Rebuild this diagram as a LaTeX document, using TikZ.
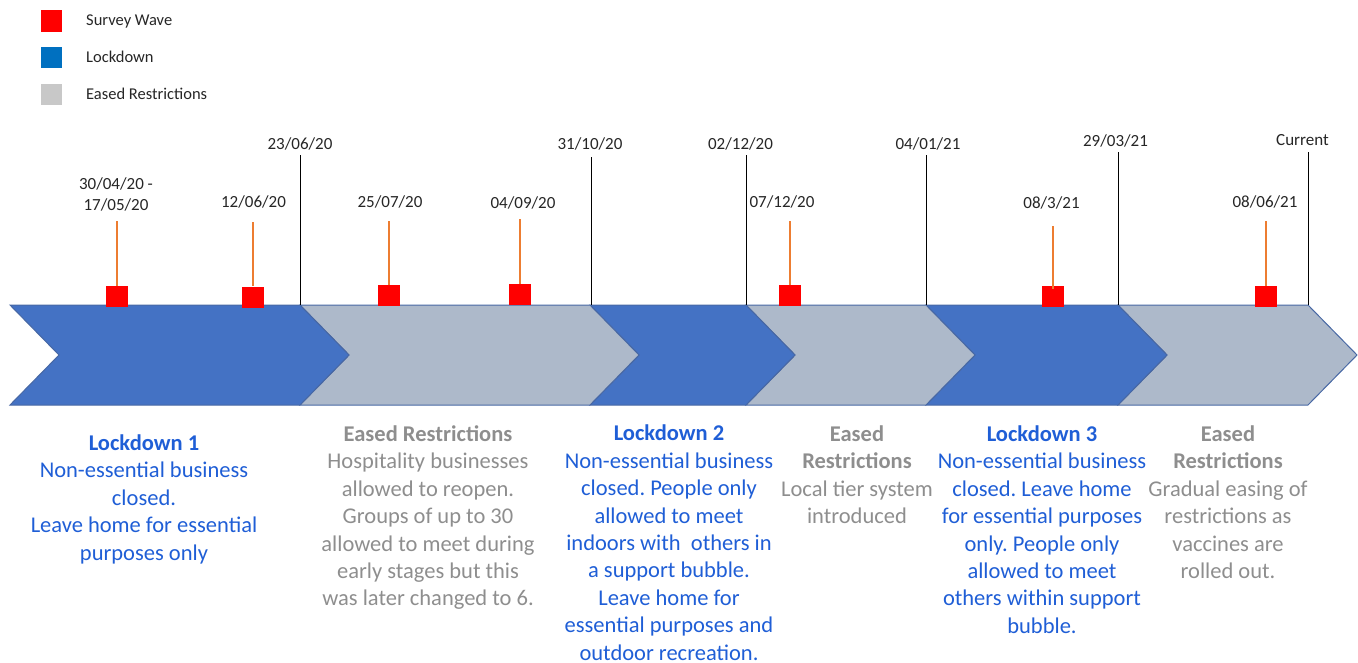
\documentclass[tikz,border=0pt]{standalone}
\usepackage{fontspec}
\setmainfont{Carlito}
\frenchspacing
\definecolor{ldblue}{RGB}{68,114,196}
\definecolor{easegrey}{RGB}{173,185,202}
\definecolor{chevline}{RGB}{72,104,164}
\definecolor{legblue}{RGB}{0,112,192}
\definecolor{leggrey}{RGB}{200,200,200}
\definecolor{wavered}{RGB}{255,0,0}
\definecolor{waveorange}{RGB}{237,125,49}
\definecolor{txtblue}{RGB}{31,94,214}
\definecolor{txtgrey}{RGB}{142,142,142}
\newcommand\chevshape[3]{\path[#3] (#1,305) -- (#2,305) -- ({#2+49},355) -- (#2,405) -- (#1,405) -- ({#1+49},355) -- cycle;}
\begin{document}
\begin{tikzpicture}[x=1pt,y=-1pt,
  legsq/.style={minimum width=21.5pt,minimum height=21.5pt,inner sep=0pt,draw=none},
  legtxt/.style={anchor=base west,inner sep=0pt,font=\fontsize{16.5}{19}\selectfont,text=black!85},
  datetxt/.style={anchor=base,inner sep=0pt,font=\fontsize{17}{21}\selectfont,text=black!85},
  wavebox/.style={fill=wavered,minimum width=22pt,minimum height=21pt,inner sep=0pt},
  waveline/.style={draw=waveorange,line width=1.8pt},
  markline/.style={draw=black,line width=1pt},
  ldchev/.style={fill=ldblue,draw=chevline,line width=1pt,line join=miter},
  easechev/.style={fill=easegrey,draw=chevline,line width=1pt,line join=miter},
  blocktxt/.style={anchor=north,inner sep=0pt,align=center,font=\fontsize{22.5}{27.4}\selectfont},
  ldtxt/.style={blocktxt,text=txtblue},
  eztxt/.style={blocktxt,text=txtgrey}]
\useasboundingbox (0,0) rectangle (1358,662);
% legend
\node[legsq,fill=wavered] (lg1) at (51.5,21) {};
\node[legsq,fill=legblue] (lg2) at (51.5,57.5) {};
\node[legsq,fill=leggrey] (lg3) at (51.5,94.5) {};
\node[legtxt] (lt1) at (86,25.5) {Survey Wave};
\node[legtxt] (lt2) at (86,62.5) {Lockdown};
\node[legtxt] (lt3) at (86,99.5) {Eased Restrictions};
% chevrons (drawn right to left so each tip lies over the next)
\chevshape{1118}{1308}{easechev}
\chevshape{926}{1118}{ldchev}
\chevshape{746}{926}{easechev}
\chevshape{590}{746}{ldchev}
\chevshape{300}{590}{easechev}
\chevshape{10}{300}{ldchev}
% phase boundary markers
\coordinate (b1t) at (300,155); \coordinate (b1b) at (300,305);
\coordinate (b2t) at (591,157); \coordinate (b2b) at (591,305);
\coordinate (b3t) at (746,155); \coordinate (b3b) at (746,305);
\coordinate (b4t) at (926,155); \coordinate (b4b) at (926,305);
\coordinate (b5t) at (1118,152); \coordinate (b5b) at (1118,305);
\coordinate (b6t) at (1308,152); \coordinate (b6b) at (1308,305);
\draw[markline] (b1t) -- (b1b);
\draw[markline] (b2t) -- (b2b);
\draw[markline] (b3t) -- (b3b);
\draw[markline] (b4t) -- (b4b);
\draw[markline] (b5t) -- (b5b);
\draw[markline] (b6t) -- (b6b);
\node[datetxt] (d1) at (300,149) {23/06/20};
\node[datetxt] (d2) at (590,149) {31/10/20};
\node[datetxt] (d3) at (740.5,149) {02/12/20};
\node[datetxt] (d4) at (928,149) {04/01/21};
\node[datetxt] (d5) at (1115.5,146) {29/03/21};
\node[datetxt] (d6) at (1302.5,145) {Current};
% survey waves
\node[wavebox] (w1) at (117,296.5) {};
\node[wavebox] (w2) at (253,297) {};
\node[wavebox] (w3) at (389,295.5) {};
\node[wavebox] (w4) at (520,294.5) {};
\node[wavebox] (w5) at (790,295.5) {};
\node[wavebox] (w6) at (1053,296.5) {};
\node[wavebox] (w7) at (1266,296.5) {};
\coordinate (w1t) at (117,221);
\coordinate (w2t) at (253,222);
\coordinate (w3t) at (389,221);
\coordinate (w4t) at (520,219);
\coordinate (w5t) at (790,221);
\coordinate (w6t) at (1053,226);
\coordinate (w7t) at (1266,221);
\draw[waveline] (w1t) -- (w1.north);
\draw[waveline] (w2t) -- (w2.north);
\draw[waveline] (w3t) -- (w3.north);
\draw[waveline] (w4t) -- (w4.north);
\draw[waveline] (w5t) -- (w5.north);
\draw[waveline] (w6t) -- ([yshift=-3pt]w6.north);
\draw[waveline] (w7t) -- (w7.north);
\node[datetxt] (wl1a) at (116,189.3) {30/04/20 -};
\node[datetxt] (wl1b) at (116,210) {17/05/20};
\node[datetxt] (wl2) at (253.5,207.5) {12/06/20};
\node[datetxt] (wl3) at (390,207.5) {25/07/20};
\node[datetxt] (wl4) at (523,208.5) {04/09/20};
\node[datetxt] (wl5) at (782,207.5) {07/12/20};
\node[datetxt] (wl6) at (1051.5,208.5) {08/3/21};
\node[datetxt] (wl7) at (1265,207.5) {08/06/21};
% descriptions
\node[ldtxt] (t1) at (144,434.5) {\textbf{Lockdown 1}\\Non-essential business\\closed.\\Leave home for essential\\purposes only};
\node[eztxt] (t2) at (428,425.5) {\textbf{Eased Restrictions}\\Hospitality businesses\\allowed to reopen.\\Groups of up to 30\\allowed to meet during\\early stages but this\\was later changed to 6.};
\node[ldtxt] (t3) at (669,425) {\textbf{Lockdown 2}\\Non-essential business\\closed. People only\\allowed to meet\\indoors with\ \ others in\\a support bubble.\\Leave home for\\essential purposes and\\outdoor recreation.};
\node[eztxt] (t4) at (857,425.5) {\textbf{Eased}\\\textbf{Restrictions}\\Local tier system\\introduced};
\node[ldtxt] (t5) at (1042,425.5) {\textbf{Lockdown 3}\\Non-essential business\\closed. Leave home\\for essential purposes\\only. People only\\allowed to meet\\others within support\\bubble.};
\node[eztxt] (t6) at (1228,425.5) {\textbf{Eased}\\\textbf{Restrictions}\\Gradual easing of\\restrictions as\\vaccines are\\rolled out.};
\end{tikzpicture}
\end{document}
